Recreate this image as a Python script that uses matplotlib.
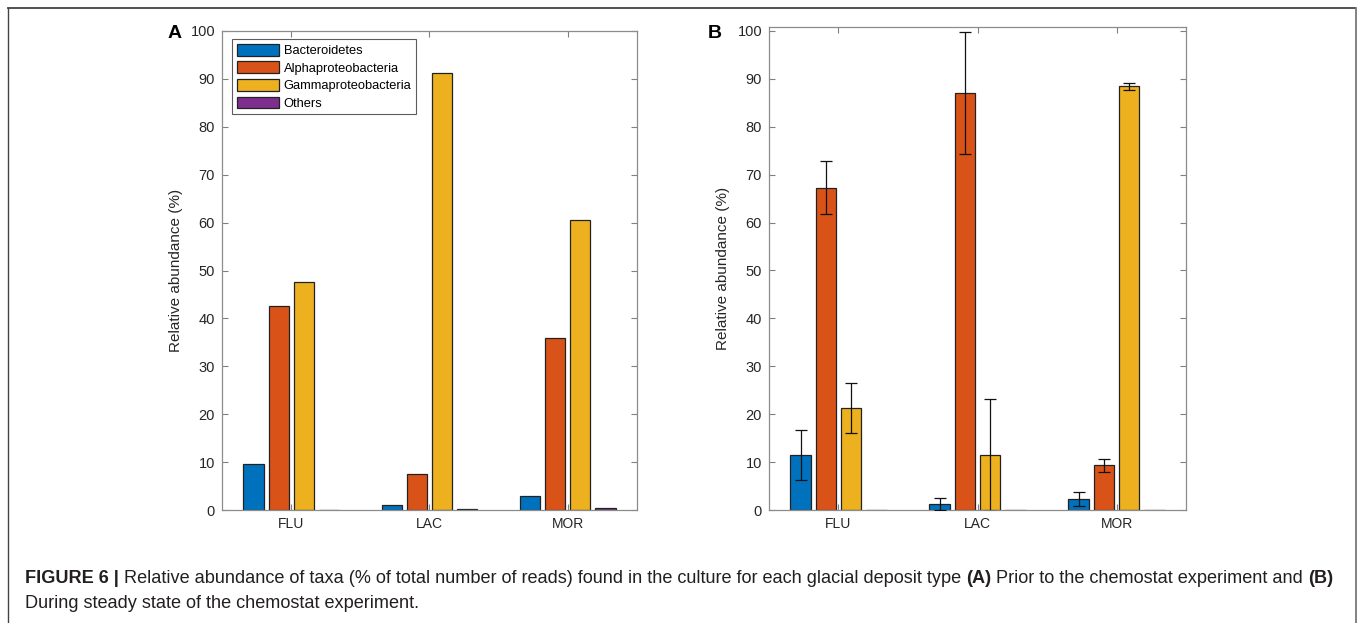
import matplotlib
matplotlib.use("Agg")
import matplotlib.pyplot as plt
import numpy as np
from matplotlib.lines import Line2D

plt.rcParams['font.family'] = ['Liberation Sans', 'DejaVu Sans']

categories = ["FLU", "LAC", "MOR"]
taxa = ["Bacteroidetes", "Alphaproteobacteria", "Gammaproteobacteria", "Others"]
colors = ["#0072BD", "#D95319", "#EDB120", "#7E2F8E"]

# Panel A: prior to chemostat experiment
a_bacteroidetes = [9.7, 1.1, 3.0]
a_alpha = [42.6, 7.6, 36.0]
a_gamma = [47.6, 91.2, 60.6]
a_others = [0.1, 0.2, 0.4]

# Panel B: steady state of chemostat experiment
b_bacteroidetes = [11.4, 1.3, 2.3]
b_alpha = [67.3, 87.1, 9.3]
b_gamma = [21.3, 11.5, 88.4]
b_others = [0.0, 0.0, 0.0]
b_bacteroidetes_err = [5.2, 1.2, 1.4]
b_alpha_err = [5.5, 12.7, 1.4]
b_gamma_err = [5.3, 11.7, 0.7]

W, H = 1357, 623
fig = plt.figure(figsize=(W / 100, H / 100), dpi=100)

def fx(px):
    return px / W

def fy(py):
    return 1 - py / H

axA = fig.add_axes([fx(222), fy(510), fx(637) - fx(222), fy(31) - fy(510)])
axB = fig.add_axes([fx(769), fy(510), fx(1186) - fx(769), fy(27) - fy(510)])

nb = 4
gw = min(0.8, nb / (nb + 1.5))
step = gw / nb
bw = 0.8 * step
x = np.arange(1, len(categories) + 1)

def draw(ax, series, errs=None):
    handles = []
    for i, vals in enumerate(series):
        off = (i - (nb - 1) / 2) * step
        h = ax.bar(x + off, vals, width=bw, color=colors[i], edgecolor="#222222",
                   linewidth=0.9, zorder=2)
        handles.append(h)
        if errs is not None and errs[i] is not None:
            ax.errorbar(x + off, vals, yerr=errs[i], fmt="none", ecolor="#111111",
                        elinewidth=0.9, capsize=4, capthick=0.9, zorder=3)
    ax.set_xlim(0.5, 3.5)
    ax.set_xticks(x)
    ax.set_xticklabels(categories, fontsize=10, color="#262626")
    ax.set_yticks(np.arange(0, 101, 10))
    ax.tick_params(axis="both", direction="in", length=4, width=0.8, color="#808080",
                   top=True, right=True, labelsize=10.5, labelcolor="#262626", pad=5)
    ax.tick_params(axis="x", labelsize=10)
    for s in ax.spines.values():
        s.set_color("#8c8c8c")
        s.set_linewidth(0.9)
    ax.set_ylabel("Relative abundance (%)", fontsize=11, color="#262626", labelpad=5)
    return handles

hA = draw(axA, [a_bacteroidetes, a_alpha, a_gamma, a_others])
axA.set_ylim(0, 100)
draw(axB, [b_bacteroidetes, b_alpha, b_gamma, b_others],
     [b_bacteroidetes_err, b_alpha_err, b_gamma_err, None])
axB.set_ylim(0, 100.8)

leg = axA.legend(hA, taxa, loc="upper left", bbox_to_anchor=(fx(232), fy(39)),
                 bbox_transform=fig.transFigure, fontsize=9.3, frameon=True,
                 fancybox=False, edgecolor="#333333", handlelength=3.3,
                 handleheight=1.05, labelspacing=0.33, borderpad=0.35,
                 handletextpad=0.35, borderaxespad=0)
leg.get_frame().set_linewidth(0.8)

fig.text(fx(175), fy(33), "A", fontsize=14, fontweight="bold", ha="center", va="center")
fig.text(fx(715), fy(33), "B", fontsize=14, fontweight="bold", ha="center", va="center")

# frame around the figure
fig.add_artist(Line2D([fx(8), fx(1355)], [fy(8), fy(8)], color="#444444", lw=1.3,
                      transform=fig.transFigure))
fig.add_artist(Line2D([fx(8), fx(8)], [fy(8), 0], color="#444444", lw=1.0,
                      transform=fig.transFigure))
fig.add_artist(Line2D([fx(1355.5), fx(1355.5)], [fy(8), 0], color="#777777", lw=1.3,
                      transform=fig.transFigure))

# caption
cap_fs = 13.03
parts1 = [("FIGURE 6 | ", "bold"),
          ("Relative abundance of taxa (% of total number of reads) found in the culture for each glacial deposit type ", "normal"),
          ("(A)", "bold"),
          (" Prior to the chemostat experiment and ", "normal"),
          ("(B)", "bold")]
cap_texts = []
for txt, wt in parts1:
    cap_texts.append(fig.text(fx(25), fy(583), txt, fontsize=cap_fs, fontweight=wt,
                              color="#231f20", va="baseline", ha="left"))

fig.text(fx(25), fy(608), "During steady state of the chemostat experiment.",
         fontsize=cap_fs, color="#231f20", va="baseline", ha="left")

fig.canvas.draw()
r = fig.canvas.get_renderer()
xcur = cap_texts[0].get_window_extent(r).x1
for t in cap_texts[1:]:
    t.set_position((xcur / W, fy(583)))
    xcur = t.get_window_extent(r).x1

fig.savefig("out.png", dpi=100)
